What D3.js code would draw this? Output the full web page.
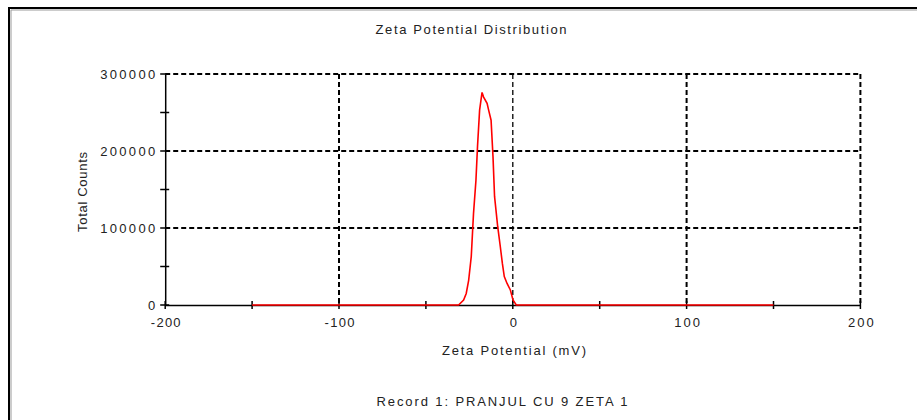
<!DOCTYPE html>
<html><head><meta charset="utf-8">
<script src="https://cdn.jsdelivr.net/npm/d3@7"></script>
<style>body{margin:0;background:#fff}svg{display:block}text{font-family:"Liberation Sans",Arial,sans-serif;fill:#222}</style>
</head><body>
<svg id="c" width="917" height="420"></svg>
<script>
const title = "Zeta Potential Distribution";
const xTitle = "Zeta Potential (mV)";
const yTitle = "Total Counts";
const footer = "Record 1: PRANJUL CU 9 ZETA 1";
const xTicks = [-200, -100, 0, 100, 200];
const xMinor = [-150, -50, 50, 150];
const yTicks = [0, 100000, 200000, 300000];
const yMinor = [50000, 150000, 250000];
const zeta = [-150, -100, -50, -31.2, -28.3, -26.8, -25.4, -23.9, -22.6, -21.2, -20.3, -19.1, -17.7, -16.8, -14.8, -13.9, -12.5, -11.4, -10.5, -8.7, -7.2, -6.0, -4.9, -3.3, -1.4, 0.1, 2.0, 50, 100, 150];
const counts = [0, 0, 0, 0, 6500, 15000, 32000, 63000, 119000, 162000, 206000, 253000, 276000, 270000, 262000, 253000, 240000, 193000, 141000, 102000, 76000, 54000, 37000, 28000, 19500, 6500, 0, 0, 0, 0];

const svg = d3.select("#c");
svg.append("path").attr("d","M9,420 V8 H917").attr("fill","none").attr("stroke","#000").attr("stroke-width",2);
svg.append("path").attr("d","M11,420 V10 H917").attr("fill","none").attr("stroke","#999").attr("stroke-width",1);

const x = d3.scaleLinear().domain([-200,200]).range([165.2,860.4]);
const y = d3.scaleLinear().domain([0,300000]).range([305,74]);

const g = svg.append("g");
xTicks.filter(v=>v!==-200).forEach(v=>{
  g.append("line").attr("x1",x(v)).attr("x2",x(v)).attr("y1",y(300000)).attr("y2",y(0))
   .attr("stroke","#000").attr("stroke-width", v===0?1.3:2).attr("stroke-dasharray","5,3");
});
yTicks.filter(v=>v!==0).forEach(v=>{
  g.append("line").attr("x1",x(-200)).attr("x2",x(200)).attr("y1",y(v)).attr("y2",y(v))
   .attr("stroke","#000").attr("stroke-width",2).attr("stroke-dasharray","5,3");
});

const FS = 13;
const lenOf = s => s.length * 7.2 - (s.startsWith("-") ? 3 : 0);
const xAxis = d3.axisBottom(x).tickValues(xTicks).tickSize(0).tickPadding(13).tickFormat(d=>d);
const xa = svg.append("g").attr("transform",`translate(0,${y(0)})`).call(xAxis);
xa.select(".domain").attr("stroke","#000").attr("stroke-width",1.5);
xa.selectAll("text").attr("font-size",FS).attr("fill","#222").attr("font-family","Liberation Sans, Arial, sans-serif")
  .attr("textLength",d=>lenOf(String(d))+ (String(d).length>1?4:0)).attr("lengthAdjust","spacing");
const yAxis = d3.axisLeft(y).tickValues(yTicks).tickSize(0).tickPadding(10).tickFormat(d=>d);
const ya = svg.append("g").attr("transform",`translate(${x(-200)},0)`).call(yAxis);
ya.select(".domain").attr("stroke","#000").attr("stroke-width",1.5);
ya.selectAll("text").attr("font-size",FS).attr("fill","#222").attr("font-family","Liberation Sans, Arial, sans-serif")
  .attr("textLength",d=>String(d).length>1?55:8).attr("lengthAdjust","spacing");

xTicks.concat(xMinor).forEach(v=>{
  svg.append("line").attr("x1",x(v)).attr("x2",x(v)).attr("y1",y(0)-4).attr("y2",y(0)+4).attr("stroke","#000").attr("stroke-width",1.5);
});
yTicks.concat(yMinor).forEach(v=>{
  svg.append("line").attr("x1",x(-200)-5).attr("x2",x(-200)+4).attr("y1",y(v)).attr("y2",y(v)).attr("stroke","#000").attr("stroke-width",1.5);
});

const line = d3.line().x((d,i)=>x(zeta[i])).y((d,i)=>y(counts[i]));
svg.append("path").datum(counts).attr("d",line).attr("fill","none").attr("stroke","#ff0000").attr("stroke-width",1.6);

function txt(t, xx, yy, len){
  return svg.append("text").attr("x",xx).attr("y",yy).attr("text-anchor","middle").attr("font-size",FS)
    .attr("textLength",len).attr("lengthAdjust","spacing").text(t);
}
txt(title, 471, 34, 191);
txt(xTitle, 514, 355, 144);
txt(footer, 502, 406, 251);
svg.append("text").attr("transform","translate(87,192) rotate(-90)").attr("text-anchor","middle").attr("font-size",FS)
  .attr("textLength",80).attr("lengthAdjust","spacing").text(yTitle);
</script>
</body></html>
